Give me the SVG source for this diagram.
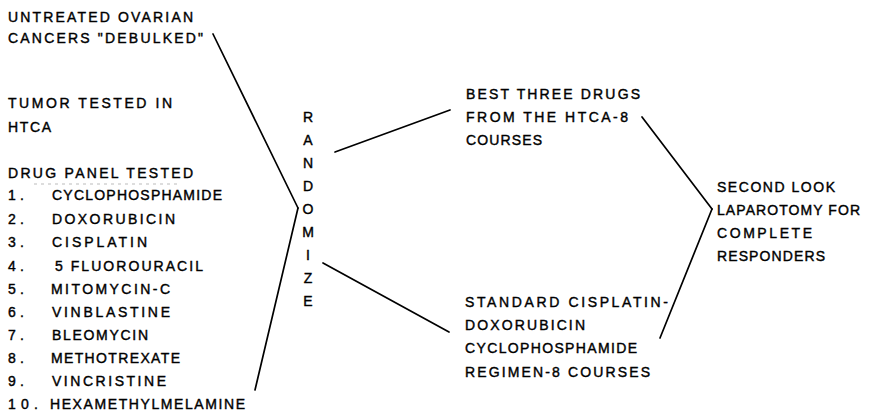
<svg xmlns="http://www.w3.org/2000/svg" width="872" height="412" viewBox="0 0 872 412">
<style>
text{font-family:"Liberation Sans",Arial,sans-serif;font-size:14px;fill:#000;stroke:#000;stroke-width:0.4}
.c line{stroke:#000;stroke-width:1.7;stroke-linecap:round;fill:none}
.r{text-anchor:middle}
</style>
<rect width="872" height="412" fill="#fff"/>
<g id="intake">
<text x="8" y="22" textLength="185" lengthAdjust="spacing">UNTREATED OVARIAN</text>
<text x="8" y="43" textLength="195" lengthAdjust="spacing">CANCERS "DEBULKED"</text>
</g>
<g id="htca">
<text x="8" y="108" textLength="164" lengthAdjust="spacing">TUMOR TESTED IN</text>
<text x="8" y="132" textLength="43" lengthAdjust="spacing">HTCA</text>
</g>
<g id="drug-panel">
<text x="8" y="178" textLength="185" lengthAdjust="spacing">DRUG PANEL TESTED</text>
<line x1="34" y1="184" x2="180" y2="184" stroke="#bbb" stroke-width="1" stroke-dasharray="3 4"/>
<text x="8" y="200" textLength="16" lengthAdjust="spacing">1.</text>
<text x="52" y="200" textLength="170" lengthAdjust="spacing">CYCLOPHOSPHAMIDE</text>
<text x="8" y="224" textLength="16" lengthAdjust="spacing">2.</text>
<text x="52" y="224" textLength="123" lengthAdjust="spacing">DOXORUBICIN</text>
<text x="8" y="247" textLength="16" lengthAdjust="spacing">3.</text>
<text x="52" y="247" textLength="95" lengthAdjust="spacing">CISPLATIN</text>
<text x="8" y="271" textLength="16" lengthAdjust="spacing">4.</text>
<text x="55" y="271" textLength="148" lengthAdjust="spacing">5 FLUOROURACIL</text>
<text x="8" y="294" textLength="16" lengthAdjust="spacing">5.</text>
<text x="51" y="294" textLength="119" lengthAdjust="spacing">MITOMYCIN-C</text>
<text x="8" y="317" textLength="16" lengthAdjust="spacing">6.</text>
<text x="52" y="317" textLength="118" lengthAdjust="spacing">VINBLASTINE</text>
<text x="8" y="340" textLength="16" lengthAdjust="spacing">7.</text>
<text x="52" y="340" textLength="96" lengthAdjust="spacing">BLEOMYCIN</text>
<text x="8" y="363" textLength="16" lengthAdjust="spacing">8.</text>
<text x="51" y="363" textLength="129" lengthAdjust="spacing">METHOTREXATE</text>
<text x="8" y="386" textLength="16" lengthAdjust="spacing">9.</text>
<text x="52" y="386" textLength="114" lengthAdjust="spacing">VINCRISTINE</text>
<text x="8" y="409" textLength="30" lengthAdjust="spacing">10.</text>
<text x="50" y="409" textLength="195" lengthAdjust="spacing">HEXAMETHYLMELAMINE</text>
</g>
<g id="randomize">
<text class="r" x="308" y="122">R</text>
<text class="r" x="308" y="145">A</text>
<text class="r" x="308" y="168">N</text>
<text class="r" x="308" y="191">D</text>
<text class="r" x="308" y="214">O</text>
<text class="r" x="308" y="237">M</text>
<text class="r" x="308" y="260">I</text>
<text class="r" x="308" y="283">Z</text>
<text class="r" x="308" y="306">E</text>
</g>
<g id="best-three">
<text x="466" y="99" textLength="174" lengthAdjust="spacing">BEST THREE DRUGS</text>
<text x="466" y="122" textLength="162" lengthAdjust="spacing">FROM THE HTCA-8</text>
<text x="466" y="145" textLength="76" lengthAdjust="spacing">COURSES</text>
</g>
<g id="standard">
<text x="465" y="307" textLength="203" lengthAdjust="spacing">STANDARD CISPLATIN-</text>
<text x="465" y="330" textLength="120" lengthAdjust="spacing">DOXORUBICIN</text>
<text x="465" y="353" textLength="172" lengthAdjust="spacing">CYCLOPHOSPHAMIDE</text>
<text x="465" y="377" textLength="185" lengthAdjust="spacing">REGIMEN-8 COURSES</text>
</g>
<g id="second-look">
<text x="717" y="192" textLength="118" lengthAdjust="spacing">SECOND LOOK</text>
<text x="717" y="215" textLength="143" lengthAdjust="spacing">LAPAROTOMY FOR</text>
<text x="717" y="238" textLength="95" lengthAdjust="spacing">COMPLETE</text>
<text x="717" y="261" textLength="108" lengthAdjust="spacing">RESPONDERS</text>
</g>
<g id="connectors" class="c">
<line x1="213" y1="34" x2="298" y2="208"/>
<line x1="298" y1="208" x2="255" y2="390"/>
<line x1="335" y1="152" x2="450" y2="110"/>
<line x1="323" y1="263" x2="449" y2="332"/>
<line x1="642" y1="117" x2="712" y2="209"/>
<line x1="712" y1="209" x2="660" y2="338"/>
</g>
</svg>
